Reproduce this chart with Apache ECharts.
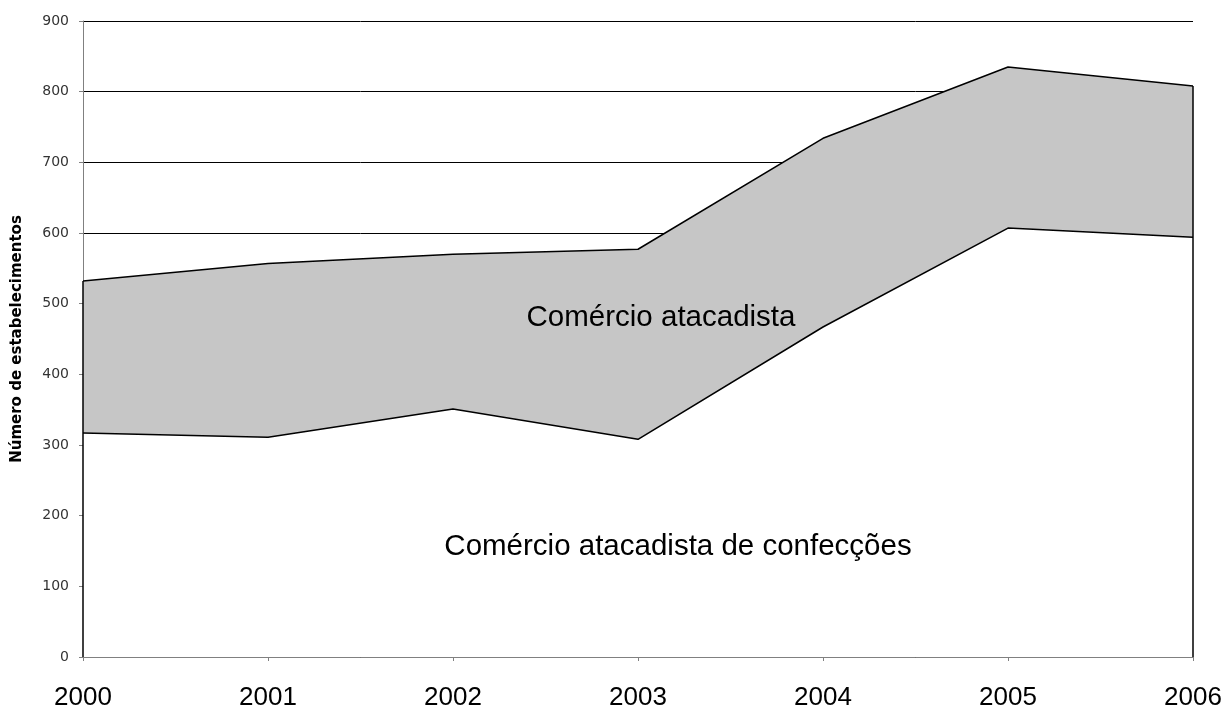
<!DOCTYPE html>
<html>
<head>
<meta charset="utf-8">
<script src="https://cdn.jsdelivr.net/npm/echarts@6/dist/echarts.min.js"></script>
<style>
html,body{margin:0;padding:0;background:#fff;overflow:hidden;}
#chart{width:1221px;height:711px;}
</style>
</head>
<body>
<div id="chart"></div>
<script>
const years = ['2000','2001','2002','2003','2004','2005','2006'];
// Comércio atacadista de confecções (bottom layer)
const confeccoes = [317, 311, 351, 308, 467, 607, 594];
// Comércio atacadista (stacked layer on top)
const atacadista = [215, 246, 219, 269, 267, 228, 214];
const yTicks = [0, 100, 200, 300, 400, 500, 600, 700, 800, 900];

const firstTotal = confeccoes[0] + atacadista[0];
const lastIdx = years.length - 1;
const lastTotal = confeccoes[lastIdx] + atacadista[lastIdx];

const chart = echarts.init(document.getElementById('chart'), null, {renderer:'canvas', width:1221, height:711});
chart.setOption({
  animation: false,
  backgroundColor: '#fff',
  grid: {left: 83, right: 28, top: 21, bottom: 54, containLabel: false, outerBoundsMode: 'none'},
  xAxis: {
    type: 'category',
    data: years,
    boundaryGap: false,
    axisLine: {lineStyle: {color: '#808080', width: 1}},
    axisTick: {show: true, length: 4, lineStyle: {color: '#808080'}},
    axisLabel: {fontFamily: 'Liberation Sans, Arial, sans-serif', fontSize: 26, color: '#000', margin: 28}
  },
  yAxis: {
    type: 'value',
    min: yTicks[0],
    max: yTicks[yTicks.length - 1],
    interval: 100,
    name: 'Número de estabelecimentos',
    nameLocation: 'middle',
    nameGap: 58,
    nameRotate: 90,
    nameTextStyle: {fontFamily: 'DejaVu Sans', fontWeight: 'bold', fontSize: 15, color: '#000'},
    axisLine: {show: true, lineStyle: {color: '#808080', width: 1}},
    axisTick: {show: true, length: 4, lineStyle: {color: '#808080'}},
    axisLabel: {fontFamily: 'DejaVu Sans, sans-serif', fontSize: 14, color: '#333', margin: 14},
    splitLine: {show: true, lineStyle: {color: '#000', width: 1}}
  },
  series: [
    {
      name: 'Comércio atacadista de confecções',
      type: 'line',
      stack: 'total',
      data: confeccoes,
      symbol: 'none',
      z: 3,
      lineStyle: {color: '#000', width: 1.5},
      areaStyle: {color: '#ffffff', opacity: 1},
      markLine: {
        silent: true,
        symbol: 'none',
        label: {show: false},
        lineStyle: {color: '#000', width: 1.5, type: 'solid'},
        data: [
          [{coord: [years[0], 0]}, {coord: [years[0], firstTotal]}],
          [{coord: [years[lastIdx], 0]}, {coord: [years[lastIdx], lastTotal]}]
        ]
      }
    },
    {
      name: 'Comércio atacadista',
      type: 'line',
      stack: 'total',
      data: atacadista,
      symbol: 'none',
      z: 2,
      lineStyle: {color: '#000', width: 1.5},
      areaStyle: {color: '#c6c6c6', opacity: 1}
    }
  ],
  graphic: [
    {
      type: 'text', x: 661, y: 318, silent: true, z: 100,
      style: {text: 'Comércio atacadista', font: '29.5px "Liberation Sans", Arial, sans-serif', fill: '#000', textAlign: 'center', textVerticalAlign: 'middle', align: 'center', verticalAlign: 'middle'}
    },
    {
      type: 'text', x: 678, y: 547, silent: true, z: 100,
      style: {text: 'Comércio atacadista de confecções', font: '29.5px "Liberation Sans", Arial, sans-serif', fill: '#000', textAlign: 'center', textVerticalAlign: 'middle', align: 'center', verticalAlign: 'middle'}
    }
  ]
});
</script>
</body>
</html>
